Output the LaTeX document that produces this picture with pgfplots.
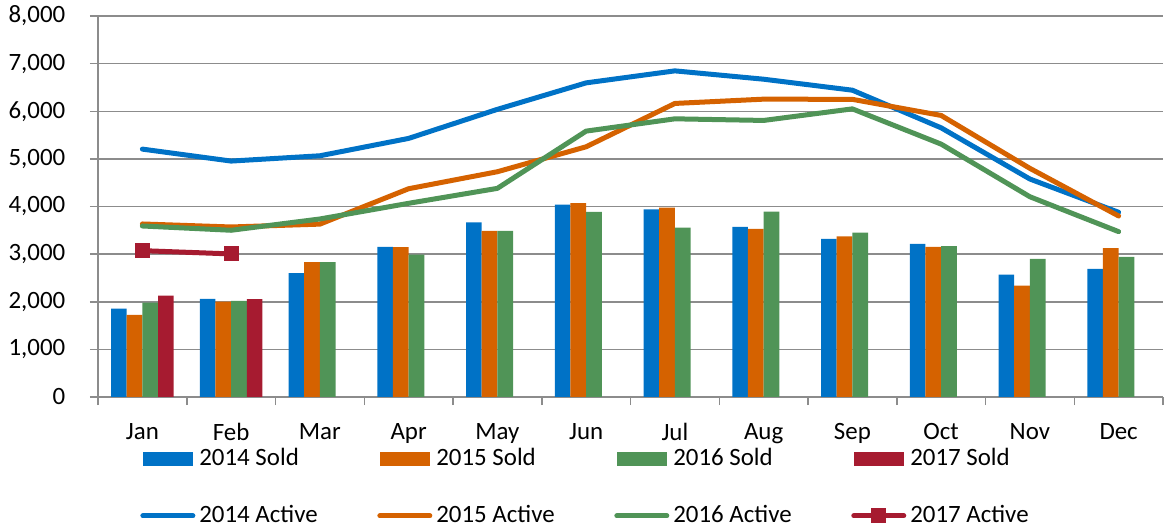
\documentclass[border=0pt]{standalone}
\usepackage{fontspec}
\setmainfont{Carlito}
\usepackage{pgfplots}
\pgfplotsset{compat=1.18}
\definecolor{c14}{RGB}{0,114,198}
\definecolor{c15}{RGB}{213,98,0}
\definecolor{c16}{RGB}{80,148,87}
\definecolor{c17}{RGB}{166,27,48}
\definecolor{gridc}{RGB}{140,140,140}
\pgfplotsset{
  soldleg/.style={legend image code/.code={\fill[##1] (0bp,-3.6bp) rectangle (25bp,3.6bp);}},
  actleg/.style={legend image code/.code={\draw[mark repeat=2, mark phase=2, ##1] plot coordinates {(0bp,0bp) (12.5bp,0bp) (25bp,0bp)};}},
}
\newcommand{\lt}[1]{\makebox[87bp][l]{#1}}
\begin{document}
\fontsize{12.5}{15}\selectfont
\begin{tikzpicture}
\useasboundingbox (0,0) rectangle (582bp,264.5bp);
\begin{axis}[
  at={(49bp,66bp)}, anchor=south west,
  scale only axis, width=532.5bp, height=190.5bp,
  xmin=-0.5, xmax=11.5, ymin=0, ymax=8000,
  axis x line*=bottom, axis y line*=left,
  axis line style={gridc, line width=0.75bp},
  xtick={0,...,11},
  xticklabels={Jan,Feb,Mar,Apr,May,Jun,Jul,Aug,Sep,Oct,Nov,Dec},
  minor xtick={-0.5,0.5,...,11.5},
  major x tick style={draw=none},
  minor x tick style={gridc, line width=0.75bp},
  minor tick length=4bp,
  ytick={0,1000,...,8000},
  major tick length=4bp,
  y tick style={gridc, line width=0.75bp},
  tick align=outside,
  ymajorgrids, grid style={gridc, line width=0.75bp},
  /pgf/number format/.cd, 1000 sep={,}, assume math mode=true,
  /pgfplots/.cd,
  tick label style={font=\fontsize{12.5}{15}\selectfont},
  yticklabel style={xshift=-8bp},
  xticklabel style={yshift=-5bp},
  legend columns=4,
  legend style={draw=none, fill=none, at={(0,0)}, anchor=north west,
    xshift=18bp, yshift=-21.5bp,
    font=\fontsize{12.5}{15}\selectfont,
    row sep=14bp,
    /tikz/every even column/.append style={column sep=0bp}},
  legend cell align=left,
]
% Sold bars
\addplot[ybar, bar width=0.1764, bar shift=-0.2646, fill=c14, draw=none, soldleg] coordinates {
(0,1857) (1,2061) (2,2600) (3,3151) (4,3669) (5,4038) (6,3941) (7,3570) (8,3319) (9,3214) (10,2570) (11,2690)};
\addplot[ybar, bar width=0.1764, bar shift=-0.0882, fill=c15, draw=none, soldleg] coordinates {
(0,1725) (1,2004) (2,2830) (3,3145) (4,3486) (5,4073) (6,3975) (7,3528) (8,3375) (9,3151) (10,2340) (11,3124)};
\addplot[ybar, bar width=0.1764, bar shift=0.0882, fill=c16, draw=none, soldleg] coordinates {
(0,1983) (1,2019) (2,2830) (3,2990) (4,3486) (5,3885) (6,3556) (7,3891) (8,3451) (9,3166) (10,2899) (11,2941)};
\addplot[ybar, bar width=0.1764, bar shift=0.2646, fill=c17, draw=none, soldleg] coordinates {
(0,2130) (1,2054)};
% Active lines
\addplot[c14, line width=2.5bp, line join=round, line cap=round, no markers, actleg] coordinates {
(0,5205) (1,4954) (2,5065) (3,5430) (4,6040) (5,6596) (6,6848) (7,6673) (8,6442) (9,5652) (10,4577) (11,3878)};
\addplot[c15, line width=2.5bp, line join=round, line cap=round, no markers, actleg] coordinates {
(0,3633) (1,3570) (2,3630) (3,4373) (4,4730) (5,5254) (6,6164) (7,6254) (8,6250) (9,5912) (10,4801) (11,3801)};
\addplot[c16, line width=2.5bp, line join=round, line cap=round, no markers, actleg] coordinates {
(0,3591) (1,3501) (2,3738) (3,4067) (4,4381) (5,5583) (6,5841) (7,5807) (8,6050) (9,5310) (10,4205) (11,3472)};
\addplot[c17, line width=2.5bp, line join=round, line cap=round, mark=square*, mark size=3.5bp, mark options={line width=0pt, fill=c17, draw=c17}, actleg] coordinates {
(0,3073) (1,3004)};
\legend{\lt{2014 Sold},\lt{2015 Sold},\lt{2016 Sold},\lt{2017 Sold},\lt{2014 Active},\lt{2015 Active},\lt{2016 Active},\lt{2017 Active}}
\end{axis}
\end{tikzpicture}
\end{document}
